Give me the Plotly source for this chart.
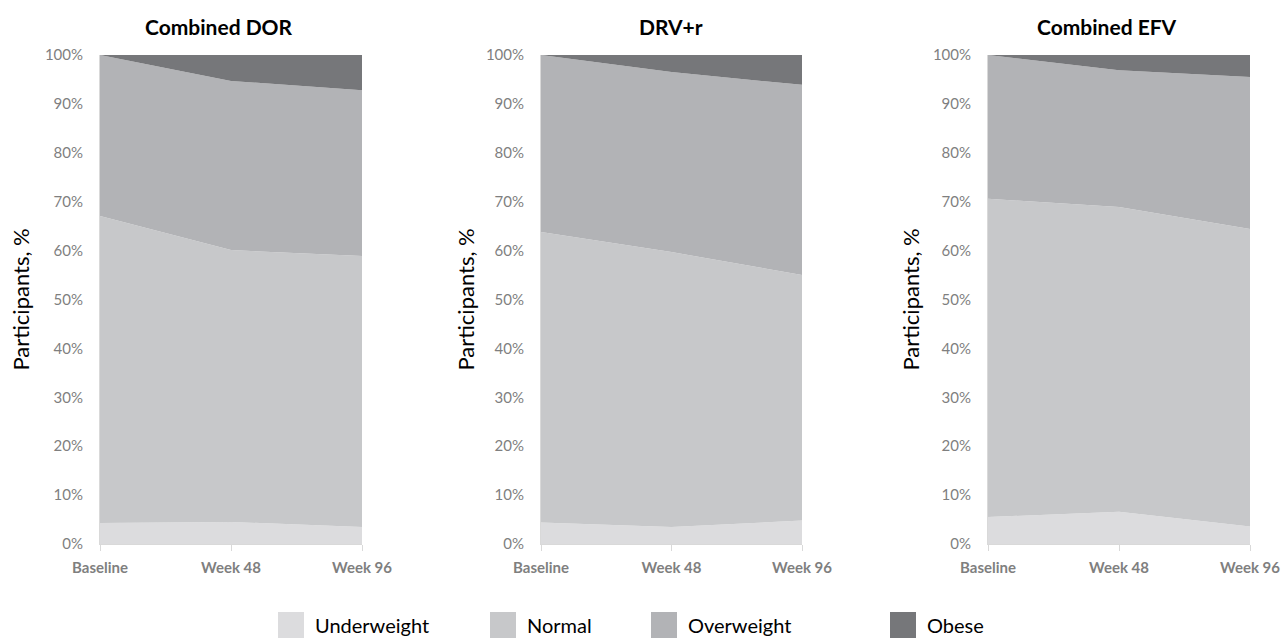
import plotly.graph_objects as go

W, H = 1284, 639

timepoints = ["Baseline", "Week 48", "Week 96"]
panel_titles = ["Combined DOR", "DRV+r", "Combined EFV"]
categories = ["Underweight", "Normal", "Overweight", "Obese"]

dor_underweight = [4.3, 4.5, 3.5]
dor_normal = [62.8, 55.6, 55.4]
dor_overweight = [32.9, 34.6, 33.9]
dor_obese = [0.0, 5.3, 7.2]

drv_underweight = [4.4, 3.5, 4.8]
drv_normal = [59.4, 56.2, 50.2]
drv_overweight = [36.2, 36.8, 38.9]
drv_obese = [0.0, 3.5, 6.1]

efv_underweight = [5.5, 6.6, 3.6]
efv_normal = [65.1, 62.3, 60.8]
efv_overweight = [29.4, 28.0, 31.1]
efv_obese = [0.0, 3.1, 4.5]

panels = [
    [dor_underweight, dor_normal, dor_overweight, dor_obese],
    [drv_underweight, drv_normal, drv_overweight, drv_obese],
    [efv_underweight, efv_normal, efv_overweight, efv_obese],
]
colors = ["#dcdcde", "#c7c8ca", "#b2b3b6", "#76777a"]

# pixel layout helpers (screen pixels -> paper fraction)
def px_x(p):
    return p / W

def px_y(p):
    return 1 - p / H

plot_px = [(100, 362), (541, 802), (988, 1250)]
title_px = [219, 671, 1107]
ytitle_px = [20, 465, 910]
y_top, y_bot = 55, 544

fig = go.Figure()
font_main = "Lato, 'Open Sans', sans-serif"

for i, series in enumerate(panels):
    ax = "" if i == 0 else str(i + 1)
    for name, vals, col in zip(categories, series, colors):
        fig.add_trace(go.Scatter(
            x=timepoints, y=vals, name=name, mode="lines",
            line=dict(width=0, color=col), fillcolor=col,
            stackgroup=f"g{i}", xaxis="x" + ax, yaxis="y" + ax,
            showlegend=False, hoverinfo="x+y+name",
        ))
    x0, x1 = plot_px[i]
    fig.layout["xaxis" + ax] = dict(
        domain=[px_x(x0), px_x(x1)], anchor="y" + ax, type="category",
        range=[0, 2], showgrid=False, showline=True, linecolor="#d9d9d9",
        linewidth=1, ticks="outside", ticklen=6, tickcolor="#d9d9d9",
        ticklabelstandoff=4,
        tickfont=dict(family=font_main, size=15, color="#7f7f7f", weight="bold"),
        zeroline=False, fixedrange=True, automargin=False,
    )
    fig.layout["yaxis" + ax] = dict(
        domain=[px_y(y_bot), px_y(y_top)], anchor="x" + ax, range=[0, 100],
        dtick=10, ticksuffix="%", showgrid=False, showline=True,
        linecolor="#d9d9d9", linewidth=1, zeroline=False,
        tickfont=dict(family=font_main, size=15, color="#7f7f7f"),
        ticks="", ticklabelstandoff=13, fixedrange=True, automargin=False,
    )
    fig.add_annotation(
        text=f"<b>{panel_titles[i]}</b>", x=px_x(title_px[i]), y=px_y(27),
        xref="paper", yref="paper", showarrow=False, xanchor="center", yanchor="middle",
        font=dict(family=font_main, size=21, color="#000000"),
    )
    fig.add_annotation(
        text="Participants, %", x=px_x(ytitle_px[i]), y=px_y((y_top + y_bot) / 2),
        xref="paper", yref="paper", showarrow=False, textangle=-90,
        xanchor="center", yanchor="middle",
        font=dict(family=font_main, size=22, color="#000000"),
    )

# legend
legend_px = [278, 490, 651, 890]
for name, col, lx in zip(categories, colors, legend_px):
    fig.add_shape(type="rect", xref="paper", yref="paper",
                  x0=px_x(lx), x1=px_x(lx + 26), y0=px_y(612), y1=px_y(638),
                  fillcolor=col, line=dict(width=0))
    fig.add_annotation(text=name, x=px_x(lx + 35), y=px_y(625), xref="paper", yref="paper",
                       showarrow=False, xanchor="left", yanchor="middle",
                       font=dict(family=font_main, size=20, color="#000000"))

fig.update_layout(
    width=W, height=H, margin=dict(l=0, r=0, t=0, b=0, autoexpand=False),
    paper_bgcolor="white", plot_bgcolor="white", showlegend=False,
)

fig.write_html(
    "out.html",
    config={"displayModeBar": False},
    post_script="document.body.style.margin='0';document.body.style.overflow='hidden';",
)
